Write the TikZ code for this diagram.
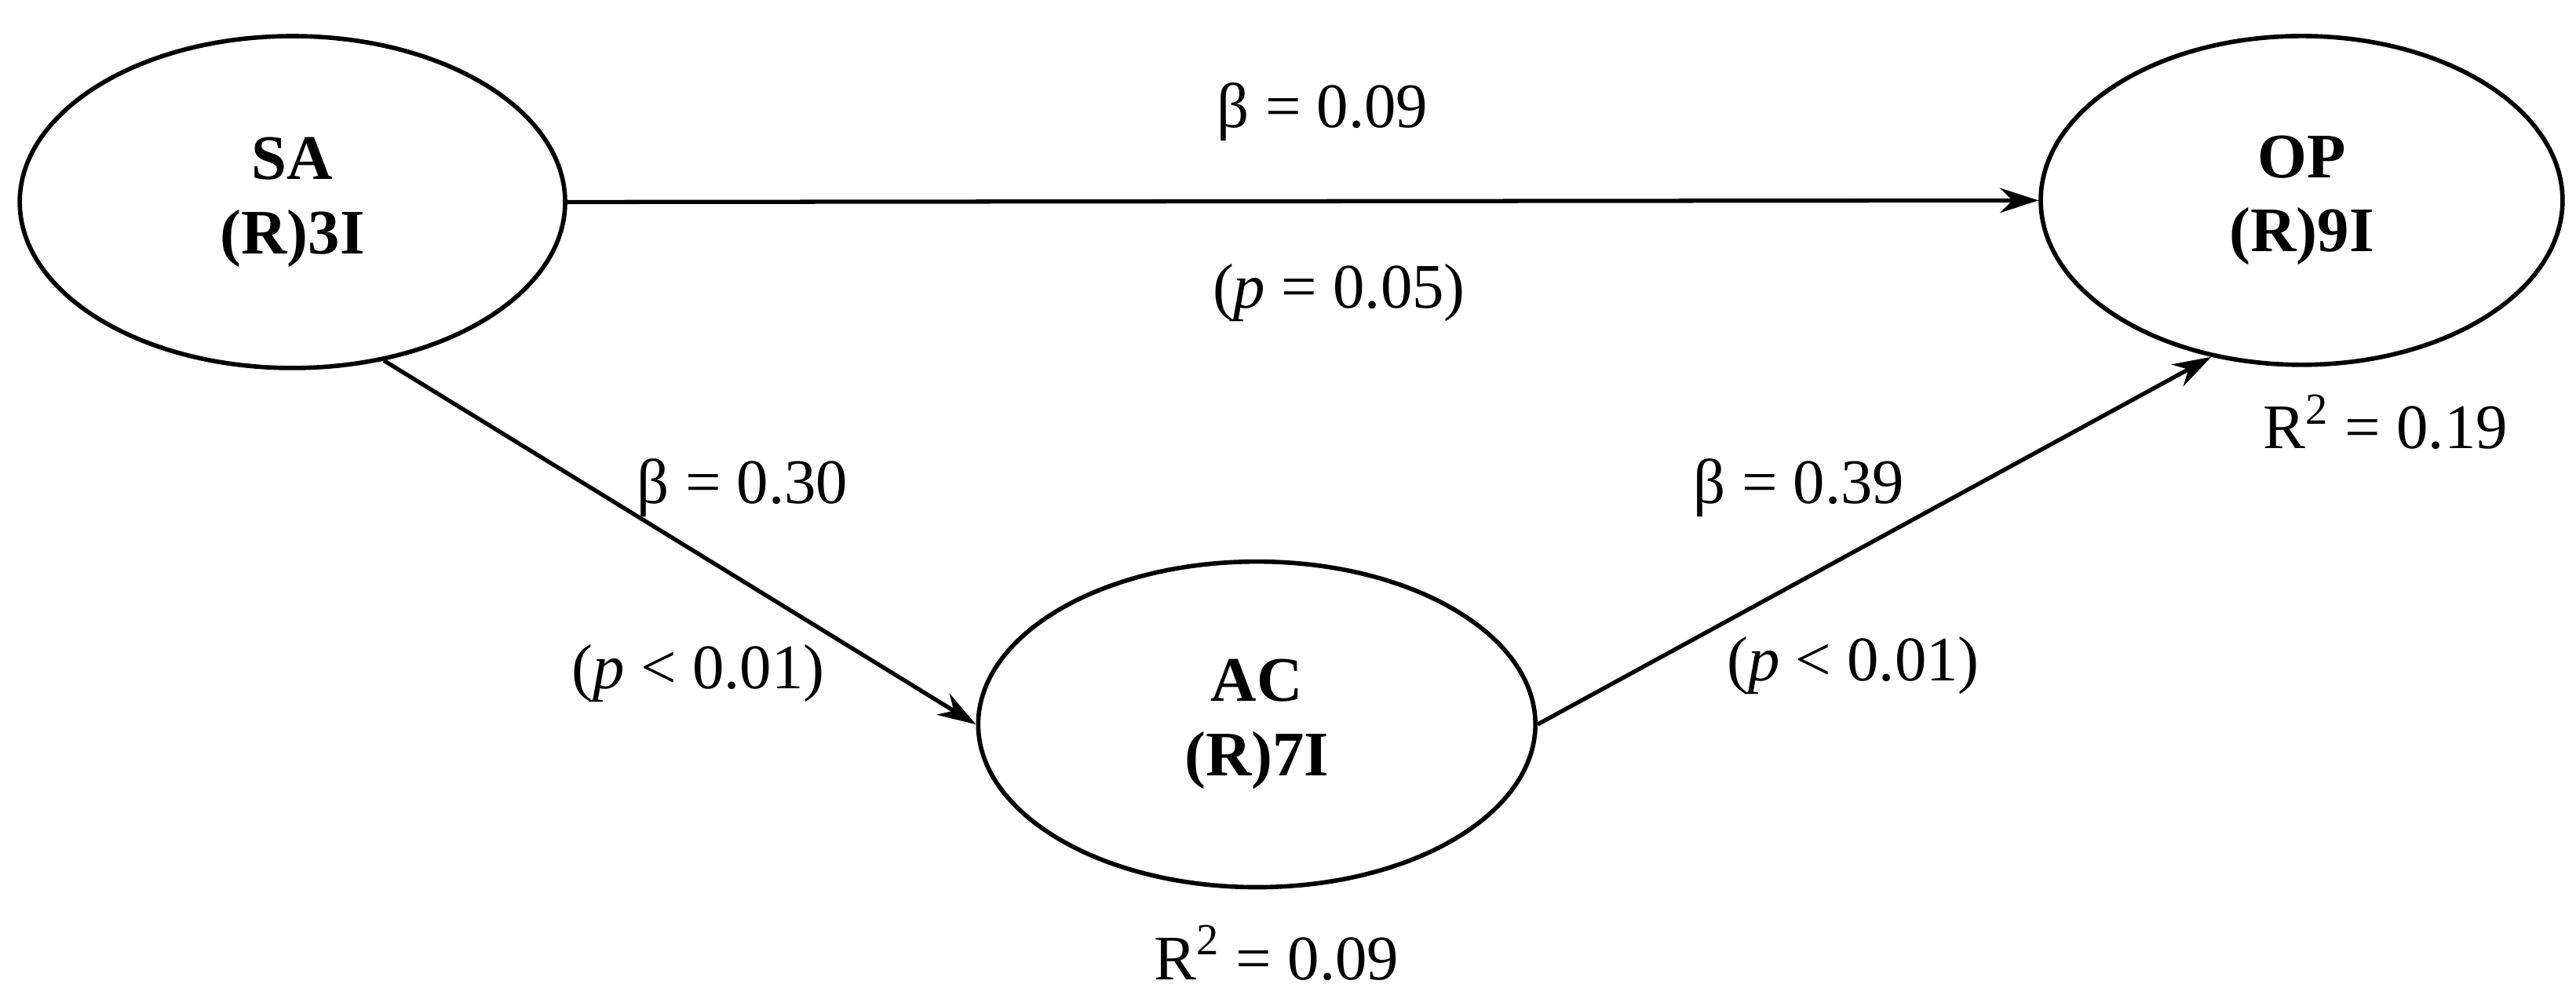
\documentclass[tikz,border=0pt]{standalone}
\usepackage{fontspec}
\setmainfont{Liberation Serif}
\usetikzlibrary{arrows.meta,shapes.geometric}
\begin{document}
\begin{tikzpicture}[x=0.02093cm,y=-0.02093cm,
  lat/.style={draw,line width=1.6pt,ellipse,inner sep=0pt,font=\fontsize{23}{27}\selectfont\bfseries,align=center},
  lbl/.style={font=\fontsize{23}{27}\selectfont,inner sep=0pt},
  path/.style={line width=1.5pt,-{Stealth[length=14pt,width=9pt]}}]
\useasboundingbox (0,0) rectangle (1568,608);
\node[lat,minimum width=6.95cm,minimum height=4.23cm] (SA) at (178,123) {SA\\(R)3I};
\node[lat,minimum width=6.65cm,minimum height=4.19cm] (OP) at (1401,122) {OP\\(R)9I};
\node[lat,minimum width=7.1cm,minimum height=4.15cm] (AC) at (765,441) {AC\\(R)7I};
\draw[path] (SA.east) -- (OP.west);
\draw[path] (SA.-60) -- (AC.west);
\draw[path] (AC.east) -- (OP.-120);
\node[lbl] (l1) at (805,68) {β = 0.09};
\node[lbl] (l2) at (815,178) {(\textit{p} = 0.05)};
\node[lbl] (l3) at (452,297) {β = 0.30};
\node[lbl] (l4) at (425,410) {(\textit{p} < 0.01)};
\node[lbl] (l5) at (1095,297) {β = 0.39};
\node[lbl] (l6) at (1128,405) {(\textit{p} < 0.01)};
\node[lbl] (r1) at (1452,257) {R\textsuperscript{2} = 0.19};
\node[lbl] (r2) at (777,580) {R\textsuperscript{2} = 0.09};
\end{tikzpicture}
\end{document}
